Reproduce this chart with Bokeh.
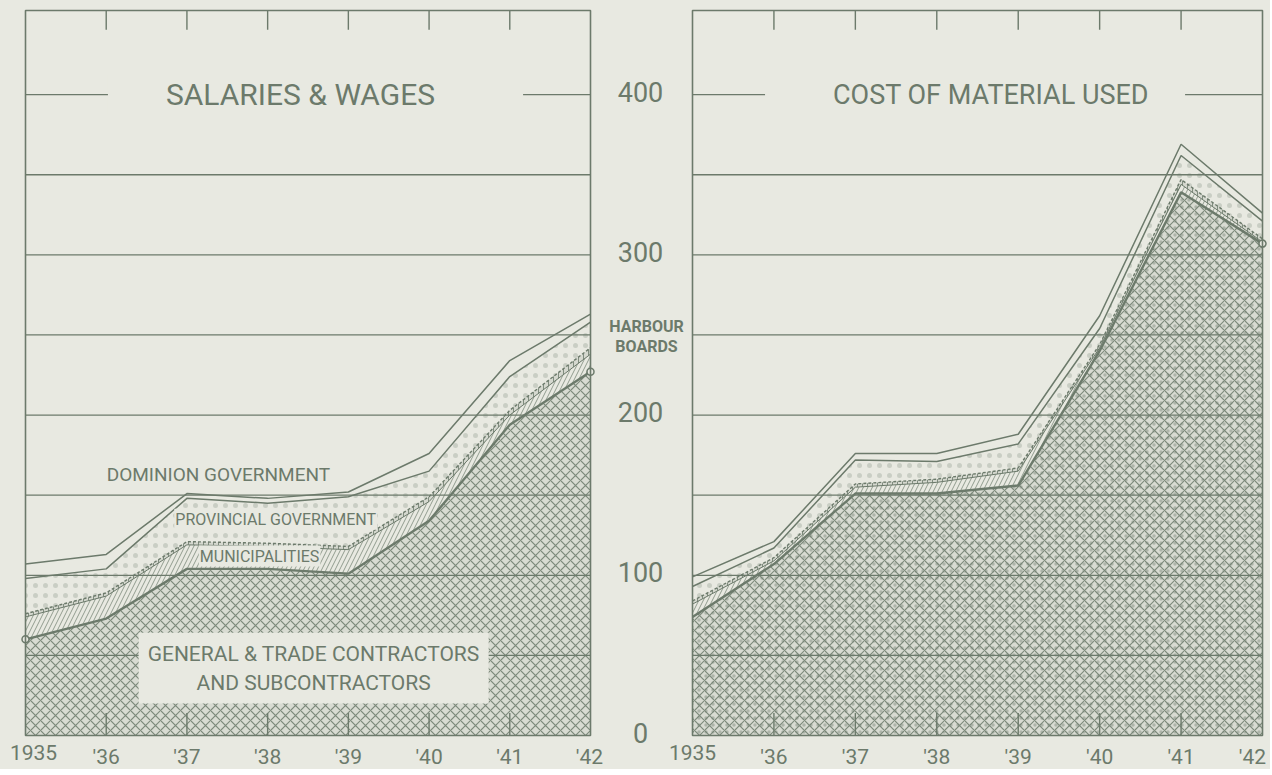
from bokeh.plotting import figure
from bokeh.layouts import row
from bokeh.models import Label, Range1d
from bokeh.core.properties import value
from bokeh.embed import file_html
from bokeh.resources import INLINE

# ---------------- data (millions of dollars) ----------------
years = [1935, 1936, 1937, 1938, 1939, 1940, 1941, 1942]
year_labels = ["1935", "'36", "'37", "'38", "'39", "'40", "'41", "'42"]
y_ticks = [0, 100, 200, 300, 400]
y_tick_labels = ["0", "100", "200", "300", "400"]
grid_ticks = [50, 100, 150, 200, 250, 300, 350, 400]

# Salaries & wages, layers from bottom to top
sw_general = [60, 73, 104, 104, 101, 134, 194, 227]
sw_municipal = [14, 14, 15, 14, 15, 12, 6, 11]
sw_harbour = [2, 2, 2, 2, 2, 3, 3, 4]
sw_provincial = [22, 15, 27, 25, 31, 16, 21, 16]
sw_dominion = [9, 9, 3, 3, 3, 11, 10, 5]

# Cost of material used, layers from bottom to top
cm_general = [74, 107, 151, 151, 156, 240, 339, 307]
cm_municipal = [8, 2, 4, 7, 9, 2, 5, 1]
cm_harbour = [2, 2, 2, 2, 2, 2, 3, 2]
cm_provincial = [9, 6, 15, 11, 15, 10, 15, 11]
cm_dominion = [6, 4, 4, 5, 6, 8, 7, 5]

title_left = "SALARIES & WAGES"
title_right = "COST OF MATERIAL USED"
harbour_label = ["HARBOUR", "BOARDS"]
harbour_label_y = [255, 243]

INK = "#6c7a6b"
BG = "#e8e9e1"
FONT = "Roboto"

# ---------------- geometry (pixels) ----------------
H = 769
Y_MAX = 452.5
FRAME_H = 725                 # pixels from 0 to Y_MAX
UPP = Y_MAX / FRAME_H         # value units per pixel
TOP_PAD, BOT_PAD = 10, 34
PPY1 = 565 / 7                # pixels per year, left panel
PPY2 = 570 / 7                # pixels per year, right panel


def cum(*layers):
    out, run = [], [0] * len(layers[0])
    for lay in layers:
        run = [a + b for a, b in zip(run, lay)]
        out.append(run)
    return out


def make_panel(width, ppy, pad_left, pad_right, first_shift, last_shift,
               gen, mun, har, prov, dom, right_panel):
    p = figure(width=width, height=H, output_backend="svg", toolbar_location=None,
               x_range=Range1d(years[0] - pad_left / ppy, years[-1] + pad_right / ppy),
               y_range=Range1d(-BOT_PAD * UPP, Y_MAX + TOP_PAD * UPP),
               x_axis_location=None, y_axis_location=None,
               min_border_left=0, min_border_right=0, min_border_top=0, min_border_bottom=0,
               background_fill_color=BG, border_fill_color=BG)
    p.outline_line_color = None
    p.xgrid.visible = False
    p.ygrid.visible = False

    x0, x1 = years[0], years[-1]
    p.segment(x0=[x0] * len(grid_ticks), y0=grid_ticks, x1=[x1] * len(grid_ticks), y1=grid_ticks,
              line_color=INK, line_width=1.3)

    c_gen, c_mun, c_har, c_prov, c_dom = cum(gen, mun, har, prov, dom)
    zero = [0] * len(years)

    p.varea(x=years, y1=zero, y2=c_gen, fill_color=INK, fill_alpha=0.12,
            hatch_pattern="x", hatch_color=INK, hatch_alpha=0.85, hatch_scale=10, hatch_weight=1.2)
    if right_panel:
        p.varea(x=years, y1=zero, y2=c_gen, fill_alpha=0,
                hatch_pattern=".", hatch_color=INK, hatch_alpha=0.4, hatch_scale=7, hatch_weight=0.6)
    p.varea(x=years, y1=c_gen, y2=c_mun, fill_alpha=0.0,
            hatch_pattern="/", hatch_color=INK, hatch_alpha=0.7, hatch_scale=9, hatch_weight=1)
    p.varea(x=years, y1=c_mun, y2=c_har, fill_color=INK, fill_alpha=0.15,
            hatch_pattern="|", hatch_color=INK, hatch_alpha=0.8, hatch_scale=5, hatch_weight=1)
    p.varea(x=years, y1=c_har, y2=c_prov, fill_alpha=0,
            hatch_pattern=".", hatch_color=INK, hatch_alpha=0.25, hatch_scale=10, hatch_weight=0.5)

    p.line(years, c_mun, line_color=INK, line_width=1.0)
    p.line(years, c_har, line_color=INK, line_width=1.4, line_dash="3 2")
    p.line(years, c_prov, line_color=INK, line_width=1.5)
    p.line(years, c_dom, line_color=INK, line_width=1.5)
    p.line(years, c_gen, line_color=INK, line_width=2.4)
    ends = [0, len(years) - 1] if not right_panel else [len(years) - 1]
    p.scatter([years[i] for i in ends], [c_gen[i] for i in ends], size=7,
              fill_color=BG, line_color=INK, line_width=1.5)

    inner = years[1:-1]
    p.segment(x0=inner, y0=[0] * len(inner), x1=inner, y1=[14] * len(inner),
              line_color=INK, line_width=1.4)
    p.segment(x0=inner, y0=[Y_MAX] * len(inner), x1=inner, y1=[Y_MAX - 12] * len(inner),
              line_color=INK, line_width=1.4)

    p.quad(left=[x0], right=[x1], bottom=[0], top=[Y_MAX], fill_alpha=0,
           line_color=INK, line_width=1.6)

    # year labels (first / last nudged off the frame corners)
    lab_x = list(years)
    lab_x[0] += first_shift / ppy
    lab_x[-1] += last_shift / ppy
    p.text(x=lab_x, y=[0] * len(years), text=year_labels, text_align="center",
           text_baseline="top", y_offset=9, text_font=value(FONT), text_font_size="21px",
           text_color=INK)
    return p


p1 = make_panel(604, PPY1, 25, 14, 8, -1,
                sw_general, sw_municipal, sw_harbour, sw_provincial, sw_dominion, False)
p2 = make_panel(666, PPY2, 88, 8, 0, -10,
                cm_general, cm_municipal, cm_harbour, cm_provincial, cm_dominion, True)

# shared value scale and harbour-boards label in the gap between the panels
p2.text(x=[years[0] - 52 / PPY2] * len(y_ticks), y=y_ticks, text=y_tick_labels,
        text_align="center", text_baseline="middle", y_offset=-3, text_font=value(FONT),
        text_font_size="27px", text_color=INK)
p2.text(x=[years[0] - 46 / PPY2] * len(harbour_label), y=harbour_label_y, text=harbour_label,
        text_align="center", text_baseline="middle", text_font=value(FONT),
        text_font_size="16px", text_font_style="bold", text_color=INK)

# titles: the padded box blanks out part of the 400 rule
p1.add_layout(Label(x=1938.593, y=400, text=title_left, text_align="center", text_baseline="middle",
                    text_font=FONT, text_font_size="30px", text_color=INK,
                    background_fill_color=BG, padding=dict(left=58, right=88, top=2, bottom=2)))
p2.add_layout(Label(x=1938.47, y=400, text=title_right, text_align="center", text_baseline="middle",
                    text_font=FONT, text_font_size="27px", text_color=INK,
                    background_fill_color=BG, padding=dict(left=68, right=36, top=2, bottom=2)))


def band_label(p, x, y, text, size, pad=3):
    p.add_layout(Label(x=x, y=y, text=text, text_align="center", text_baseline="middle",
                       text_font=FONT, text_font_size=size, text_color=INK,
                       background_fill_color=BG, padding=pad))


band_label(p1, 1937.39, 163, "DOMINION GOVERNMENT", "19px")
band_label(p1, 1938.10, 135, "PROVINCIAL GOVERNMENT", "16px", 1)
band_label(p1, 1937.90, 112, "MUNICIPALITIES", "16px", 1)
band_label(p1, 1938.57, 42, "GENERAL & TRADE CONTRACTORS\nAND SUBCONTRACTORS", "21px", 9)

layout = row(p1, p2, styles={"background-color": BG})
open("out.html", "w").write(file_html(layout, INLINE))
